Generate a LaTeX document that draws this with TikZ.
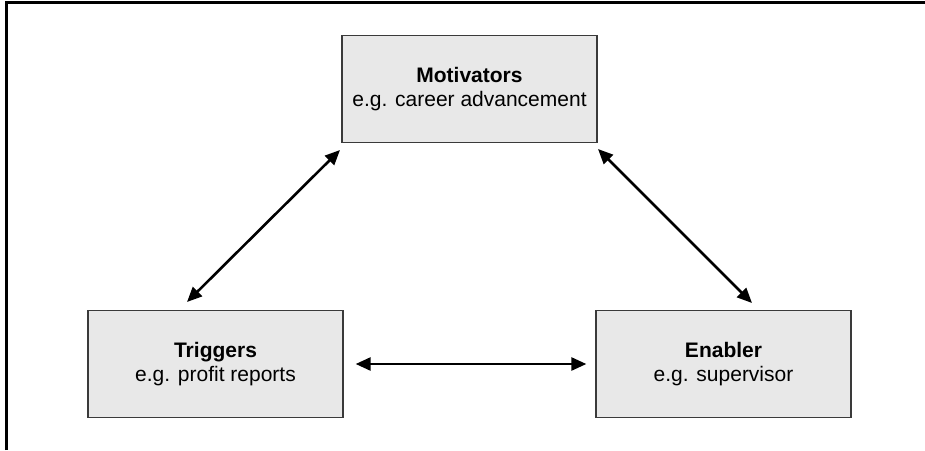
\documentclass[tikz,border=0pt]{standalone}
\usepackage{fontspec}
\setmainfont{Liberation Sans}
\usetikzlibrary{arrows.meta}
\definecolor{boxfill}{HTML}{E8E8E8}
\definecolor{boxline}{HTML}{3A3A3A}
\begin{document}
\begin{tikzpicture}[x=1pt,y=-1pt,
  factor/.style={draw=boxline,line width=1.3pt,fill=boxfill,minimum width=255pt,
    minimum height=107pt,inner sep=0pt,align=center,
    font=\fontsize{21}{24}\selectfont},
  link/.style={line width=2.6pt,{Triangle[length=15pt,width=13pt]}-{Triangle[length=15pt,width=13pt]}}]
\useasboundingbox (0,0) rectangle (925,450);
% open frame: top and left edges only
\draw[line width=3pt] (6,450) -- (6,2) -- (925,2);
% the three factors
\node[factor] (mot) at (469.5,89) {\textbf{Motivators}\\e.g. career advancement};
\node[factor] (trig) at (215.5,364) {\textbf{Triggers}\\e.g. profit reports};
\node[factor] (enab) at (723.5,364) {\textbf{Enabler}\\e.g. supervisor};
% arrow ends near the box corners
\coordinate (mt) at (340,150);
\coordinate (tm) at (187,302);
\coordinate (me) at (598,149);
\coordinate (em) at (752,303);
% links between factors
\draw[link] (tm) -- (mt);
\draw[link] (me) -- (em);
\draw[link,shorten <=12pt,shorten >=9pt] (trig.east) -- (enab.west);
\end{tikzpicture}
\end{document}
